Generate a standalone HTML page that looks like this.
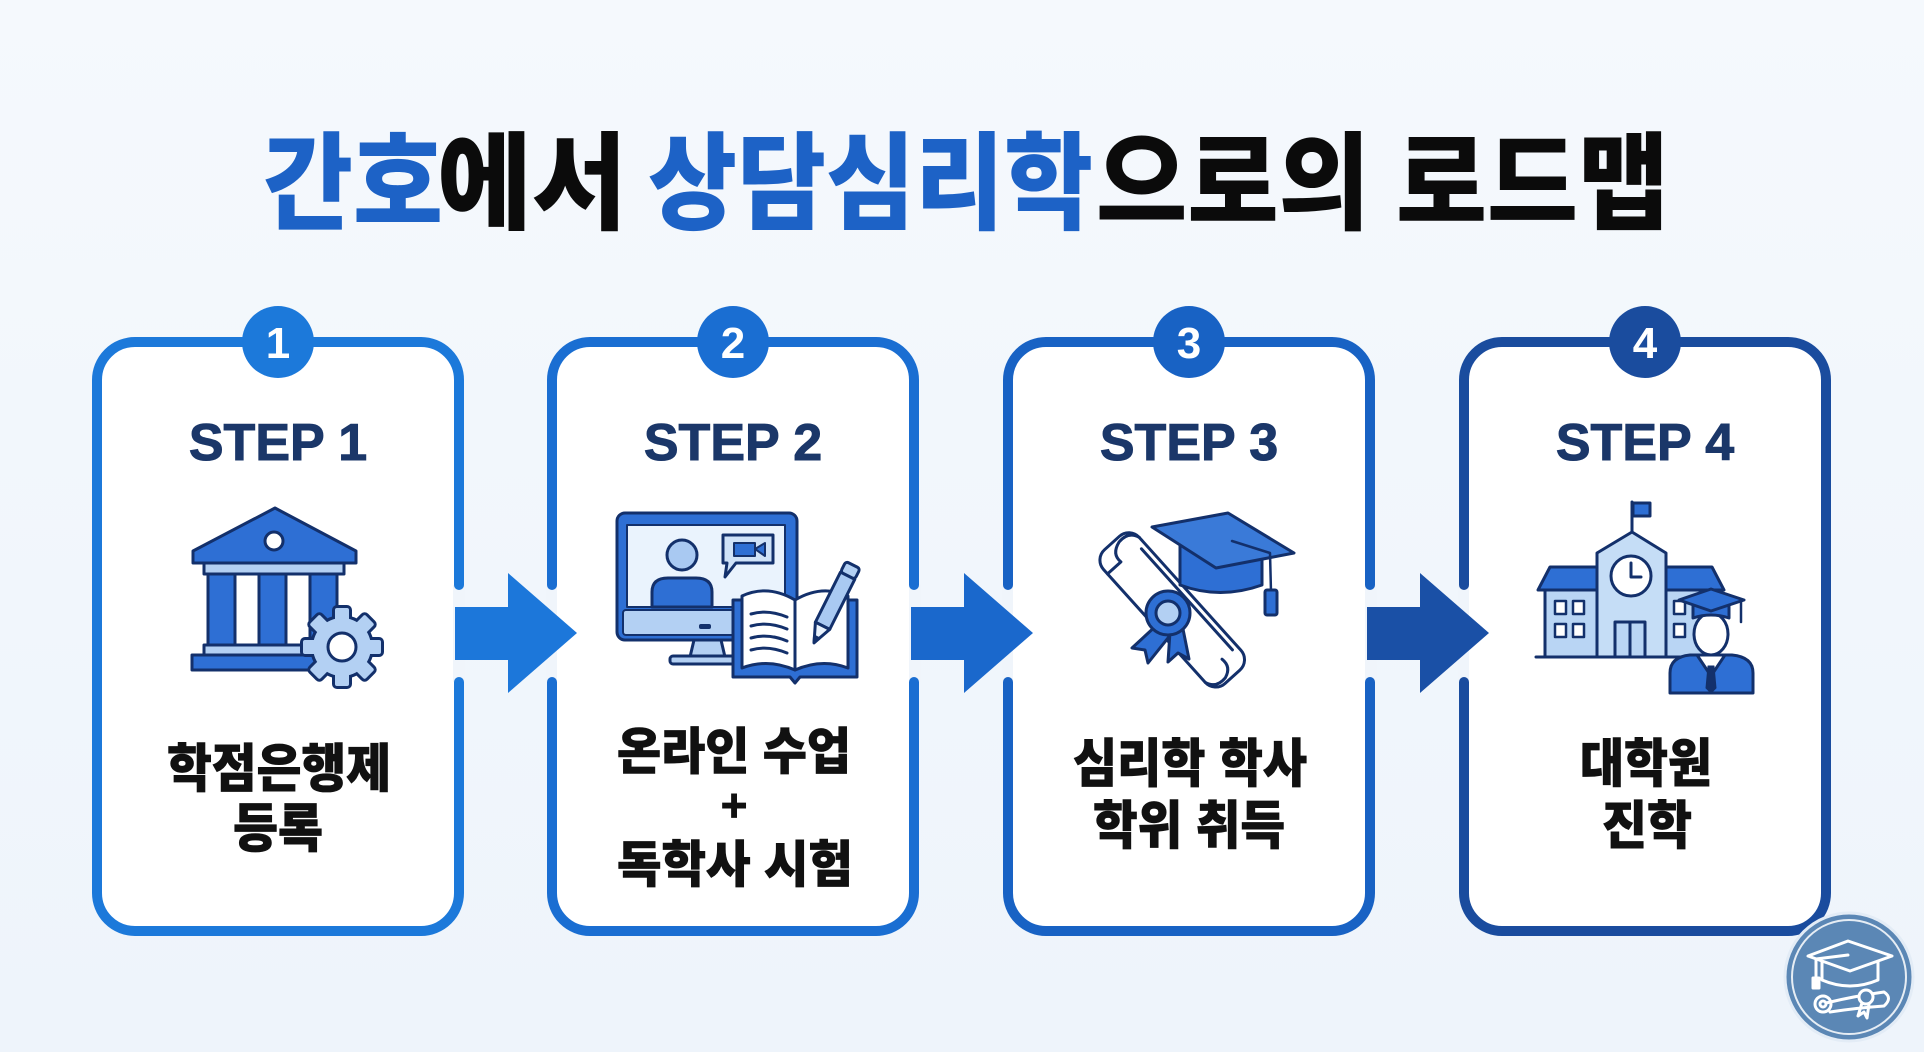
<!DOCTYPE html>
<html><head><meta charset="utf-8"><style>
html,body{margin:0;padding:0;background:#f1f6fc;width:1924px;height:1052px;overflow:hidden;}
svg{display:block}
</style></head><body>
<svg width="1924" height="1052" viewBox="0 0 1924 1052" xmlns="http://www.w3.org/2000/svg">
<defs>
<linearGradient id="bg" x1="0" y1="0" x2="0" y2="1"><stop offset="0" stop-color="#f5f9fd"/><stop offset="1" stop-color="#eef4fb"/></linearGradient>
<g id="gearshape">
  <circle r="29"/>
  <rect x="-7" y="-39" width="14" height="14" rx="2"/>
  <rect x="-7" y="-39" width="14" height="14" rx="2" transform="rotate(45)"/>
  <rect x="-7" y="-39" width="14" height="14" rx="2" transform="rotate(90)"/>
  <rect x="-7" y="-39" width="14" height="14" rx="2" transform="rotate(135)"/>
  <rect x="-7" y="-39" width="14" height="14" rx="2" transform="rotate(180)"/>
  <rect x="-7" y="-39" width="14" height="14" rx="2" transform="rotate(225)"/>
  <rect x="-7" y="-39" width="14" height="14" rx="2" transform="rotate(270)"/>
  <rect x="-7" y="-39" width="14" height="14" rx="2" transform="rotate(315)"/>
</g>
</defs>
<rect width="1924" height="1052" fill="url(#bg)"/>

<!-- Title -->
<g font-family="'Liberation Sans','Noto Sans CJK KR',sans-serif" font-weight="900" font-size="106">
<text x="263" y="221" textLength="180" lengthAdjust="spacingAndGlyphs" fill="#1d62c6">간호</text>
<text x="437" y="221" textLength="190" lengthAdjust="spacingAndGlyphs" fill="#0b0b0b">에서</text>
<text x="648" y="221" textLength="445" lengthAdjust="spacingAndGlyphs" fill="#1d62c6">상담심리학</text>
<text x="1096" y="221" textLength="274" lengthAdjust="spacingAndGlyphs" fill="#0b0b0b">으로의</text>
<text x="1396" y="221" textLength="273" lengthAdjust="spacingAndGlyphs" fill="#0b0b0b">로드맵</text>
</g>

<!-- Cards -->
<rect x="97" y="342" width="362" height="589" rx="38" fill="#fff" stroke="#1c79da" stroke-width="10"/>
<rect x="552" y="342" width="362" height="589" rx="38" fill="#fff" stroke="#1a6ed2" stroke-width="10"/>
<rect x="1008" y="342" width="362" height="589" rx="38" fill="#fff" stroke="#1862c4" stroke-width="10"/>
<rect x="1464" y="342" width="362" height="589" rx="38" fill="#fff" stroke="#1a4c9e" stroke-width="10"/>

<!-- border gaps -->
<g fill="#f0f5fb">
<rect x="453" y="585" width="12" height="97"/>
<rect x="546" y="585" width="11" height="97"/>
<rect x="909" y="585" width="12" height="97"/>
<rect x="1002" y="585" width="11" height="97"/>
<rect x="1365" y="585" width="12" height="97"/>
<rect x="1458" y="585" width="11" height="97"/>
</g>
<g>
<circle cx="459" cy="585" r="5" fill="#1c79da"/><circle cx="459" cy="682" r="5" fill="#1c79da"/>
<circle cx="552" cy="585" r="5" fill="#1a6ed2"/><circle cx="552" cy="682" r="5" fill="#1a6ed2"/>
<circle cx="914" cy="585" r="5" fill="#1a6ed2"/><circle cx="914" cy="682" r="5" fill="#1a6ed2"/>
<circle cx="1008" cy="585" r="5" fill="#1862c4"/><circle cx="1008" cy="682" r="5" fill="#1862c4"/>
<circle cx="1370" cy="585" r="5" fill="#1862c4"/><circle cx="1370" cy="682" r="5" fill="#1862c4"/>
<circle cx="1464" cy="585" r="5" fill="#1a4c9e"/><circle cx="1464" cy="682" r="5" fill="#1a4c9e"/>
</g>

<!-- Arrows -->
<polygon points="455,607 508,607 508,573 577,633 508,693 508,660 455,660" fill="#1c77da"/>
<polygon points="911,607 964,607 964,573 1033,633 964,693 964,660 911,660" fill="#1a68cc"/>
<polygon points="1367,607 1420,607 1420,573 1489,633 1420,693 1420,660 1367,660" fill="#1a50a6"/>

<!-- Number circles -->
<circle cx="278" cy="342" r="36" fill="#1c79da"/>
<circle cx="733" cy="342" r="36" fill="#1a6ed2"/>
<circle cx="1189" cy="342" r="36" fill="#1862c4"/>
<circle cx="1645" cy="342" r="36" fill="#1a4c9e"/>
<g font-family="'Liberation Sans',sans-serif" font-weight="700" font-size="44" fill="#fff" text-anchor="middle">
<text x="278" y="358">1</text>
<text x="733" y="358">2</text>
<text x="1189" y="358">3</text>
<text x="1645" y="358">4</text>
</g>

<!-- STEP labels -->
<g font-family="'Liberation Sans',sans-serif" font-weight="700" font-size="52" fill="#1b3769" stroke="#1b3769" stroke-width="1" text-anchor="middle">
<text x="278" y="460">STEP 1</text>
<text x="733" y="460">STEP 2</text>
<text x="1189" y="460">STEP 3</text>
<text x="1645" y="460">STEP 4</text>
</g>

<!-- Korean labels -->
<g font-family="'Liberation Sans','Noto Sans CJK KR',sans-serif" font-weight="900" fill="#111" stroke="#111" stroke-width="0.8" text-anchor="middle">
<text x="279" y="787" font-size="52" textLength="224" lengthAdjust="spacingAndGlyphs">학점은행제</text>
<text x="278" y="847" font-size="52" textLength="90" lengthAdjust="spacingAndGlyphs">등록</text>
<text x="734" y="769" font-size="50" textLength="234" lengthAdjust="spacingAndGlyphs">온라인 수업</text>
<text x="734" y="821" font-size="46" font-family="'Liberation Sans',sans-serif">+</text>
<text x="735" y="882" font-size="50" textLength="236" lengthAdjust="spacingAndGlyphs">독학사 시험</text>
<text x="1190" y="782" font-size="52" textLength="234" lengthAdjust="spacingAndGlyphs">심리학 학사</text>
<text x="1189" y="844" font-size="52" textLength="192" lengthAdjust="spacingAndGlyphs">학위 취득</text>
<text x="1646" y="782" font-size="52" textLength="132" lengthAdjust="spacingAndGlyphs">대학원</text>
<text x="1647" y="844" font-size="52" textLength="90" lengthAdjust="spacingAndGlyphs">진학</text>
</g>

<!-- Icon 1: building + gear -->
<g stroke="#13306b" stroke-width="3" stroke-linejoin="round">
<polygon points="275,508 193,551 193,563 356,563 356,551" fill="#2e6fd4"/>
<circle cx="274" cy="541" r="9" fill="#fff"/>
<rect x="204" y="563" width="140" height="11" fill="#b3d0f3"/>
<rect x="208" y="574" width="27" height="72" fill="#2e6fd4"/>
<rect x="259" y="574" width="27" height="72" fill="#2e6fd4"/>
<rect x="310" y="574" width="27" height="72" fill="#2e6fd4"/>
<rect x="204" y="645" width="140" height="10" fill="#b3d0f3"/>
<rect x="192" y="655" width="140" height="15" fill="#2e6fd4"/>
</g>
<g transform="translate(342,647)">
<use href="#gearshape" fill="#13306b" stroke="#13306b" stroke-width="6"/>
<use href="#gearshape" fill="#b3d0f3"/>
<circle r="14" fill="#fff" stroke="#13306b" stroke-width="3"/>
</g>

<!-- Icon 2: computer + book -->
<g stroke="#13306b" stroke-width="3" stroke-linejoin="round">
<rect x="617" y="513" width="180" height="127" rx="8" fill="#2e6fd4"/>
<rect x="627" y="525" width="158" height="82" fill="#eaf3fd" stroke-width="2"/>
<rect x="623" y="610" width="168" height="25" rx="3" fill="#b3d0f3" stroke-width="2"/>
<rect x="699" y="624" width="12" height="5" rx="2" fill="#13306b" stroke="none"/>
<circle cx="682" cy="555" r="15" fill="#a9c9f2"/>
<path d="M652 607 L652 592 Q652 578 668 578 L696 578 Q712 578 712 592 L712 607 Z" fill="#2e6fd4"/>
<path d="M723 535 H773 V563 H736 L725 577 L727 563 H723 Z" fill="#cfe2f8"/>
<rect x="734" y="543" width="21" height="13" fill="#2e6fd4" stroke-width="2"/>
<polygon points="755,549 765,543 765,556" fill="#2e6fd4" stroke-width="2"/>
<polygon points="694,640 721,640 725,657 690,657" fill="#b3d0f3"/>
<rect x="670" y="656" width="67" height="8" rx="3" fill="#b3d0f3"/>
<path d="M733 600 H857 V677 H800 L795 683 L790 677 H733 Z" fill="#2e6fd4"/>
<path d="M742 596 Q768 584 795 600 L795 670 Q768 658 742 668 Z" fill="#fff"/>
<path d="M795 600 Q822 584 848 596 L848 668 Q822 658 795 670 Z" fill="#fff"/>
<g fill="none" stroke-width="3" stroke-linecap="round">
<path d="M751 614 Q768 609 787 617"/>
<path d="M751 626 Q768 621 787 629"/>
<path d="M751 638 Q768 633 787 641"/>
<path d="M751 650 Q768 645 787 653"/>
</g>
<g transform="translate(853,565) rotate(116.6)">
<rect x="0" y="-8" width="12" height="16" rx="3" fill="#b3d0f3"/>
<rect x="12" y="-8" width="56" height="16" fill="#a9c9f2"/>
<polygon points="68,-8 87,0 68,8" fill="#eaf3fd"/>
<polygon points="81,-2.5 87,0 81,2.5" fill="#13306b"/>
</g>
</g>

<!-- Icon 3: diploma + cap -->
<g stroke="#13306b" stroke-width="3" stroke-linejoin="round" stroke-linecap="round">
<g transform="translate(1112,543) rotate(48)">
<rect x="0" y="-24" width="180" height="48" rx="14" fill="#fff"/>
<path d="M14 -24 Q2 -20 4 -6 Q8 8 20 6 L20 24" fill="none"/>
<path d="M24 -18 L160 -18" fill="none"/>
<path d="M166 24 Q178 20 176 6 Q172 -6 160 -4" fill="none"/>
</g>
<polygon points="1158,624 1132,648 1145,650 1148,663 1172,633" fill="#2e6fd4"/>
<polygon points="1170,632 1168,662 1178,653 1189,659 1183,629" fill="#2e6fd4"/>
<circle cx="1168" cy="613" r="22" fill="#2e6fd4"/>
<circle cx="1168" cy="613" r="12" fill="#b3d0f3"/>
<path d="M1180 545 L1180 585 Q1220 600 1262 585 L1262 545 Z" fill="#2e6fd4"/>
<polygon points="1152,527 1228,513 1294,553 1216,568" fill="#3a7ad8"/>
<path d="M1232 541 L1270 553 L1271 592" fill="none" stroke-width="2.5"/>
<rect x="1265" y="590" width="12" height="25" rx="2" fill="#2e6fd4"/>
</g>

<!-- Icon 4: school + graduate -->
<g stroke="#13306b" stroke-width="3" stroke-linejoin="round" stroke-linecap="round">
<line x1="1632" y1="502" x2="1632" y2="535"/>
<rect x="1633" y="503" width="17" height="13" fill="#2e6fd4"/>
<polygon points="1538,590 1550,567 1597,567 1597,590" fill="#2e6fd4"/>
<polygon points="1665,567 1712,567 1724,590 1665,590" fill="#2e6fd4"/>
<rect x="1545" y="590" width="52" height="67" fill="#b9d5f4"/>
<rect x="1665" y="590" width="52" height="67" fill="#b9d5f4"/>
<g fill="#fff" stroke-width="2.5">
<rect x="1555" y="601" width="11" height="13"/>
<rect x="1573" y="601" width="11" height="13"/>
<rect x="1555" y="624" width="11" height="13"/>
<rect x="1573" y="624" width="11" height="13"/>
<rect x="1674" y="601" width="11" height="13"/>
<rect x="1674" y="624" width="11" height="13"/>
</g>
<path d="M1597 657 V553 L1632 532 L1666 553 V657 Z" fill="#c5ddf6"/>
<circle cx="1631" cy="576" r="20" fill="#fff"/>
<path d="M1631 563 V577 H1641" fill="none"/>
<rect x="1615" y="622" width="30" height="35" fill="#b9d5f4"/>
<line x1="1630" y1="622" x2="1630" y2="657"/>
<line x1="1536" y1="657" x2="1700" y2="657"/>
<path d="M1670 693 V673 Q1670 657 1690 655 L1732 655 Q1753 657 1753 673 V693 Z" fill="#2e6fd4"/>
<polygon points="1697,655 1711,676 1725,655" fill="#fff"/>
<polygon points="1708,666 1714,666 1716,688 1711,693 1706,688" fill="#13306b" stroke-width="1"/>
<ellipse cx="1711" cy="634" rx="17" ry="21" fill="#fff"/>
<path d="M1693 604 V618 Q1711 612 1729 618 V604 Z" fill="#2e6fd4"/>
<polygon points="1679,600 1711,589 1744,600 1711,611" fill="#2e6fd4"/>
<path d="M1741 601 L1741 622" fill="none" stroke-width="2.5"/>
</g>

<!-- Badge -->
<circle cx="1849" cy="977" r="64" fill="#5b87b5" stroke="#e3ecf6" stroke-width="3"/>
<circle cx="1849" cy="977" r="57" fill="none" stroke="#ffffff" stroke-width="2" opacity="0.85"/>
<g fill="none" stroke="#fff" stroke-width="3" stroke-linejoin="round" stroke-linecap="round">
<polygon points="1808,956 1848,941 1892,956 1850,971"/>
<path d="M1822 962 V980 Q1850 992 1878 980 V962"/>
<path d="M1848 955 L1816 959 L1816 978"/>
<rect x="1813" y="978" width="6" height="10" fill="#fff"/>
<path d="M1826 1003 Q1855 996 1884 992 Q1893 998 1884 1006 Q1856 1008 1830 1012"/>
<circle cx="1823" cy="1004" r="8"/>
<circle cx="1823" cy="1004" r="3"/>
<circle cx="1866" cy="997" r="7" fill="#5b87b5"/>
<path d="M1862 1003 L1858 1016 L1864 1012 L1867 1018 L1869 1004"/>
</g>
</svg>
</body></html>
